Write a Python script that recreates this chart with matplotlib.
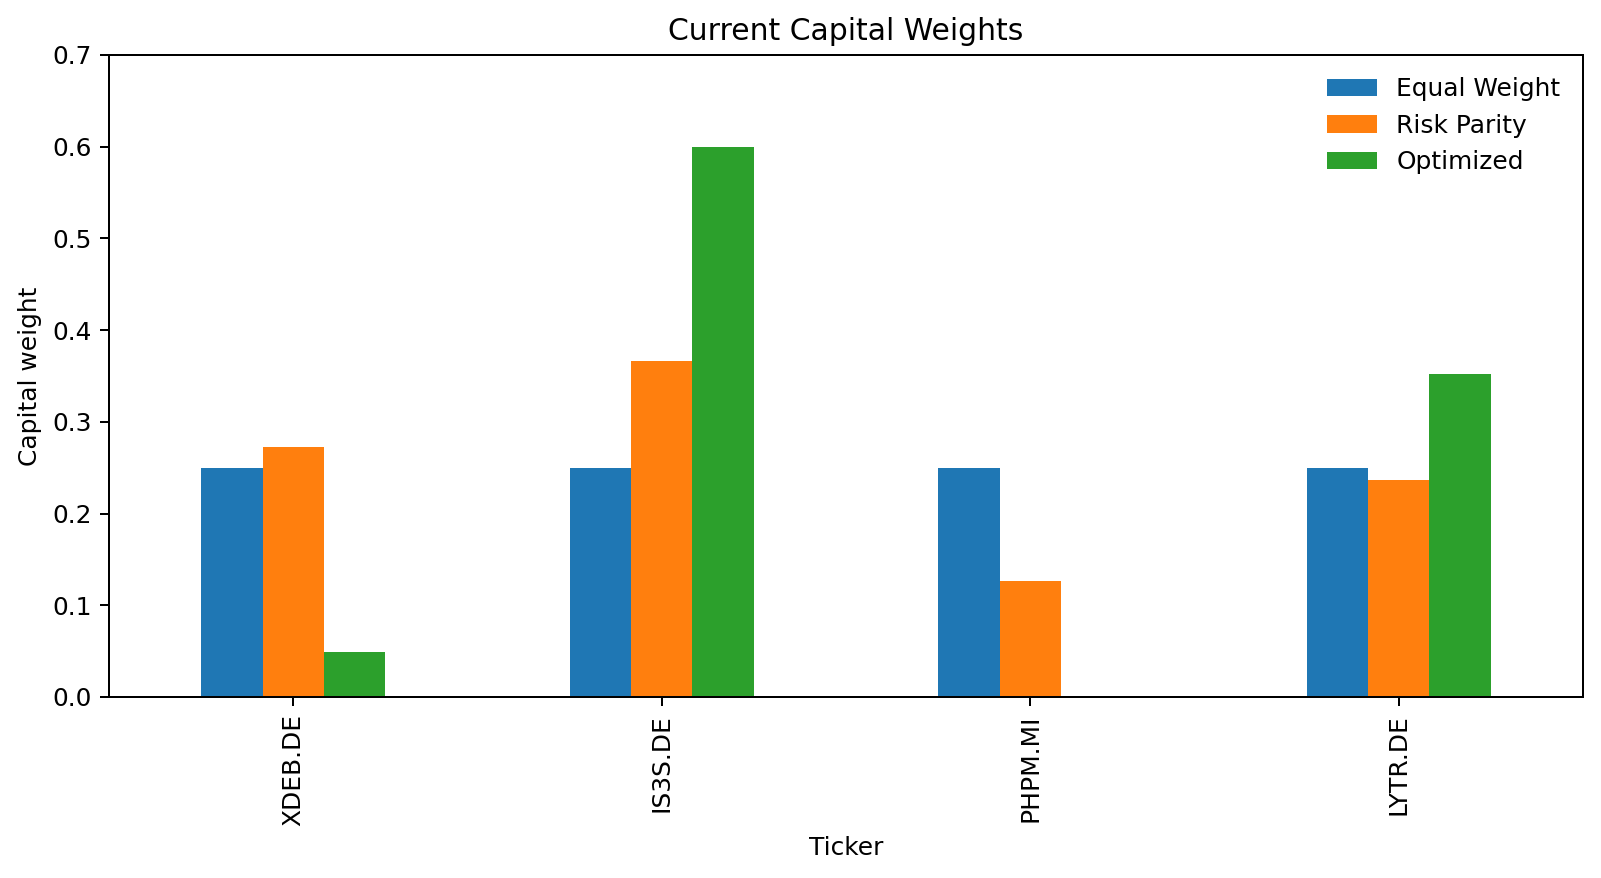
import numpy as np
import matplotlib.pyplot as plt

tickers = ["XDEB.DE", "IS3S.DE", "PHPM.MI", "LYTR.DE"]
equal_weight = [0.25, 0.25, 0.25, 0.25]
risk_parity = [0.273, 0.366, 0.127, 0.237]
optimized = [0.049, 0.600, 0.0, 0.352]

series = [("Equal Weight", equal_weight, "#1f77b4"),
          ("Risk Parity", risk_parity, "#ff7f0e"),
          ("Optimized", optimized, "#2ca02c")]

DPI = 179
W, H = 1601, 878
fig, ax = plt.subplots(figsize=(W / DPI, H / DPI), dpi=DPI)

x = np.arange(len(tickers))
w = 0.5 / len(series)
for i, (name, vals, col) in enumerate(series):
    ax.bar(x + (i - 1) * w, vals, width=w, color=col, label=name)

ax.set_xlim(-0.5, len(tickers) - 0.5)
ax.set_ylim(0, 0.7)
ax.set_xticks(x)
ax.set_xticklabels(tickers, rotation=90)
ax.set_xlabel("Ticker")
ax.set_ylabel("Capital weight")
ax.set_title("Current Capital Weights")
ax.legend(frameon=False, loc="upper right")

fig.subplots_adjust(left=109 / W, right=1583 / W, top=1 - 55 / H, bottom=1 - 697 / H)
fig.savefig("out.png", dpi=DPI)
